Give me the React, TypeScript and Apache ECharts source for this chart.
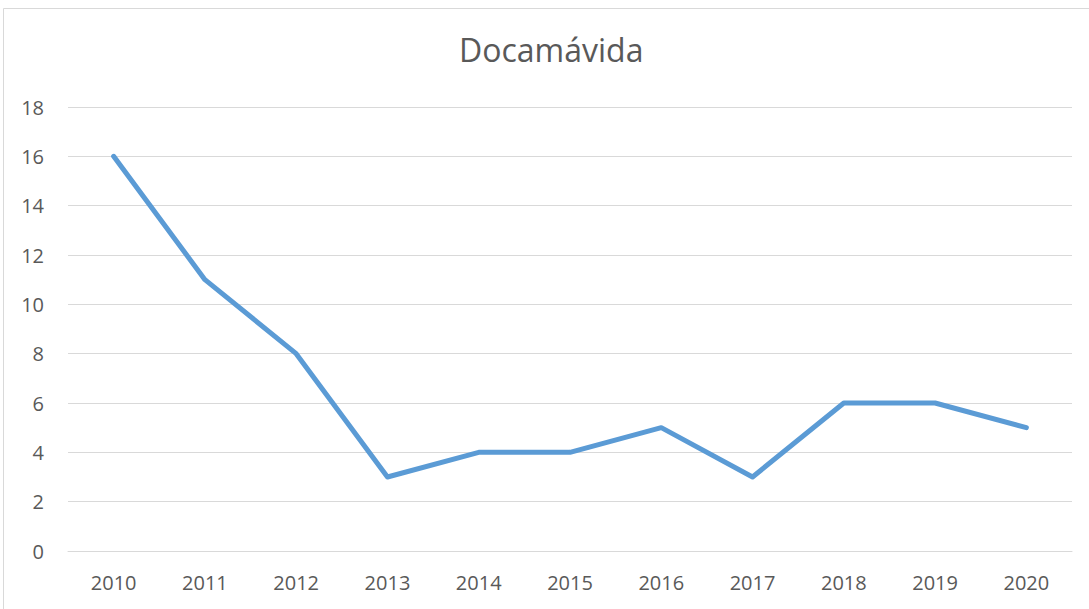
import React, { useEffect, useRef } from "react";
import * as echarts from "echarts";

const categories = ["2010", "2011", "2012", "2013", "2014", "2015", "2016", "2017", "2018", "2019", "2020"];
const values = [16, 11, 8, 3, 4, 4, 5, 3, 6, 6, 5];
const chartTitle = "Docamávida";

export default function App() {
  const ref = useRef<HTMLDivElement>(null);
  useEffect(() => {
    if (!ref.current) return;
    const chart = echarts.init(ref.current, null, { renderer: "svg" });
    const font = "'Open Sans', sans-serif";
    chart.setOption({
      animation: false,
      backgroundColor: "#ffffff",
      title: {
        text: chartTitle,
        left: 459,
        top: 33,
        padding: 0,
        textStyle: { fontFamily: font, fontSize: 32, fontWeight: "normal", color: "#595959" },
      },
      graphic: [
        {
          type: "rect",
          shape: { x: 3.5, y: 8.5, width: 1200, height: 800 },
          style: { fill: "none", stroke: "#D9D9D9", lineWidth: 1 },
          silent: true,
        },
      ],
      grid: { left: 68, right: 17, top: 107, bottom: 58, containLabel: false },
      xAxis: {
        type: "category",
        data: categories,
        boundaryGap: true,
        axisLine: { show: true, lineStyle: { color: "#D9D9D9", width: 1 } },
        axisTick: { show: false },
        axisLabel: { color: "#595959", fontFamily: font, fontSize: 20, margin: 21 },
      },
      yAxis: {
        type: "value",
        min: 0,
        max: 18,
        interval: 2,
        axisLine: { show: false },
        axisTick: { show: false },
        splitLine: { lineStyle: { color: "#D9D9D9", width: 1 } },
        axisLabel: { color: "#595959", fontFamily: font, fontSize: 20, margin: 24 },
      },
      series: [
        {
          type: "line",
          data: values,
          symbol: "none",
          lineStyle: { color: "#5B9BD5", width: 5, cap: "round", join: "round" },
        },
      ],
    });
    return () => chart.dispose();
  }, []);
  return <div ref={ref} style={{ position: "fixed", left: 0, top: 0, width: 1089, height: 609 }} />;
}
